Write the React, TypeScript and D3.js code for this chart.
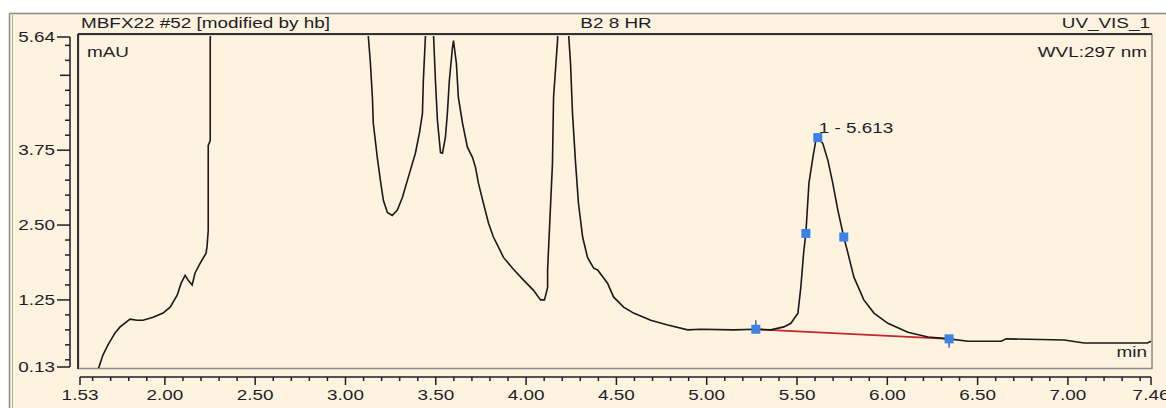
import React from "react";
import * as d3 from "d3";

// Chromatogram trace (retention time in min, signal in mAU)
const retentionTime = [
  1.628, 1.635, 1.657, 1.685, 1.724, 1.752, 1.807, 1.846, 1.879, 1.935, 1.99, 2.029, 2.068, 2.09,
  2.112, 2.129, 2.151, 2.167, 2.195, 2.228, 2.234, 2.24, 2.24, 2.251, 2.251, 2.256, 2.3, 3.05, 3.12,
  3.138, 3.149, 3.154, 3.176, 3.193, 3.21, 3.232, 3.259, 3.287, 3.315, 3.348, 3.387, 3.409, 3.426,
  3.431, 3.442, 3.465, 3.487, 3.498, 3.509, 3.526, 3.537, 3.553, 3.564, 3.575, 3.592, 3.598, 3.614,
  3.625, 3.648, 3.675, 3.703, 3.72, 3.736, 3.764, 3.792, 3.819, 3.847, 3.875, 3.925, 3.986, 4.041,
  4.08, 4.102, 4.119, 4.119, 4.146, 4.152, 4.174, 4.2, 4.235, 4.246, 4.257, 4.274, 4.29, 4.313,
  4.34, 4.374, 4.396, 4.451, 4.484, 4.54, 4.595, 4.69, 4.784, 4.895, 4.967, 5.15, 5.272, 5.355,
  5.427, 5.466, 5.505, 5.521, 5.538, 5.549, 5.566, 5.588, 5.604, 5.615, 5.643, 5.671, 5.698, 5.726,
  5.759, 5.782, 5.815, 5.87, 5.926, 6.003, 6.114, 6.225, 6.342, 6.447, 6.63, 6.658, 6.979, 7.09,
  7.44, 7.46,
];
const signal = [
  0.05, 0.13, 0.33, 0.5, 0.7, 0.8, 0.93, 0.91, 0.91, 0.96, 1.03, 1.13, 1.33, 1.53,
  1.66, 1.58, 1.5, 1.7, 1.86, 2.03, 2.16, 2.41, 3.83, 3.91, 5.58, 6.0, 40, 20, 5.9,
  5.2, 4.63, 4.2, 3.63, 3.25, 2.91, 2.71, 2.66, 2.75, 2.96, 3.3, 3.7, 4.03, 4.36,
  4.91, 5.61, 6.8, 5.7, 4.91, 4.25, 3.71, 3.7, 3.96, 4.36, 4.91, 5.46, 5.58, 5.2,
  4.63, 4.2, 3.8, 3.63, 3.46, 3.2, 2.86, 2.53, 2.3, 2.13, 1.96, 1.78, 1.58, 1.41,
  1.25, 1.25, 1.46, 1.75, 3.53, 4.63, 5.58, 9.0, 5.7, 5.2, 4.36, 3.53, 2.86, 2.3,
  1.96, 1.78, 1.75, 1.53, 1.3, 1.13, 1.03, 0.91, 0.83, 0.75, 0.76, 0.75, 0.76, 0.75,
  0.8, 0.86, 1.03, 1.46, 2.08, 2.36, 3.2, 3.63, 3.91, 3.96, 3.86, 3.58, 3.2, 2.75,
  2.3, 2.03, 1.63, 1.25, 1.03, 0.86, 0.71, 0.63, 0.6, 0.56, 0.56, 0.6, 0.58, 0.53,
  0.53, 0.56,
];

// Peak 1 markers: start, left inflection, apex, right inflection, end
const markerTime = [5.272, 5.549, 5.615, 5.759, 6.342];
const markerSignal = [0.76, 2.36, 3.96, 2.3, 0.6];
const peakLabel = "1 - 5.613";

const yLabelTicks = [0.13, 1.25, 2.5, 3.75, 5.64];
const yLabels = ["0.13", "1.25", "2.50", "3.75", "5.64"];
const xLabelTicks = [1.53, 2.0, 2.5, 3.0, 3.5, 4.0, 4.5, 5.0, 5.5, 6.0, 6.5, 7.0, 7.46];
const xLabels = ["1.53", "2.00", "2.50", "3.00", "3.50", "4.00", "4.50", "5.00", "5.50", "6.00", "6.50", "7.00", "7.46"];

const W = 1166;
const H = 408;
const BG = "#fdf3df";
const INK = "#1e1e2a";
const SX = 1.35; // the picture is stretched sideways
const FONT = "'Liberation Sans', Arial, sans-serif";

const Label = ({ x, y, anchor = "start", children }: any) => (
  <g transform={`translate(${x},${y}) scale(${SX},1)`}>
    <text textAnchor={anchor} fontSize={14} fontFamily={FONT} fill={INK}>
      {children}
    </text>
  </g>
);

export default function App() {
  const x = d3.scaleLinear().domain([1.53, 7.46]).range([80, 1151]);
  const y = d3.scaleLinear().domain([0.13, 5.64]).range([367, 37]);

  const points = retentionTime.map((t, i) => [t, signal[i]] as [number, number]);
  const line = d3
    .line<[number, number]>()
    .x((d) => x(d[0]))
    .y((d) => y(d[1]));

  // minor ticks every 0.25 mAU, unlabelled major at 5.00
  const yMinor = d3.range(1, 23).map((k) => k * 0.25).filter((v) => Math.abs(v / 1.25 - Math.round(v / 1.25)) > 1e-6);
  const yMajorExtra = [5.0];
  const xMinor = d3.range(16, 75).map((k) => k / 10).filter((v) => Math.abs(v * 2 - Math.round(v * 2)) > 1e-6);

  const axisY = 377;

  return (
    <svg width={W} height={H} style={{ position: "absolute", left: 0, top: 0, display: "block" }}>
      <defs>
        <clipPath id="plotClip">
          <rect x={79} y={36} width={1073} height={332} />
        </clipPath>
      </defs>
      <rect x={0} y={0} width={W} height={H} fill="#fff" />
      <rect x={9} y={13} width={W} height={H} fill={BG} />
      {/* outer frame */}
      <line x1={9.5} y1={13.5} x2={W} y2={13.5} stroke="#8a8a8a" strokeWidth={1.5} />
      <line x1={9.5} y1={13.5} x2={9.5} y2={H} stroke="#8a8a8a" strokeWidth={1.5} />
      <line x1={12.5} y1={15} x2={12.5} y2={H} stroke="#b5b0a5" strokeWidth={1} />

      {/* header */}
      <Label x={81} y={28}>MBFX22 #52 [modified by hb]</Label>
      <Label x={616} y={28} anchor="middle">B2 8 HR</Label>
      <Label x={1150} y={28} anchor="end">UV_VIS_1</Label>

      {/* plot frame */}
      <rect x={78.5} y={34.5} width={1073.5} height={334} fill={BG} stroke="#8c8c8c" strokeWidth={1.5} />
      <line x1={78} y1={34} x2={78} y2={369} stroke="#333" strokeWidth={2} />
      <line x1={78} y1={34} x2={1152} y2={34} stroke="#333" strokeWidth={2} />

      <Label x={87} y={57}>mAU</Label>
      <Label x={1147} y={57} anchor="end">WVL:297 nm</Label>
      <Label x={1147} y={357} anchor="end">min</Label>

      {/* y axis */}
      <g stroke={INK} strokeWidth={1.5}>
        <line x1={70} y1={y(5.64)} x2={70} y2={y(0.13)} />
        {yLabelTicks.map((v) => (
          <line key={"yl" + v} x1={57} x2={70} y1={y(v)} y2={y(v)} />
        ))}
        {yMajorExtra.map((v) => (
          <line key={"ym" + v} x1={60} x2={70} y1={y(v)} y2={y(v)} />
        ))}
        {yMinor.map((v) => (
          <line key={"yn" + v} x1={65} x2={70} y1={y(v)} y2={y(v)} />
        ))}
      </g>
      {yLabelTicks.map((v, i) => (
        <Label key={"ylt" + v} x={55} y={y(v) + 5} anchor="end">
          {yLabels[i]}
        </Label>
      ))}

      {/* x axis */}
      <g stroke={INK} strokeWidth={1.5}>
        <line x1={x(1.53)} x2={x(7.46)} y1={axisY} y2={axisY} />
        {xLabelTicks.map((v) => (
          <line key={"xl" + v} x1={x(v)} x2={x(v)} y1={axisY} y2={axisY + 8} />
        ))}
        {xMinor.map((v) => (
          <line key={"xn" + v} x1={x(v)} x2={x(v)} y1={axisY} y2={axisY + 4} />
        ))}
      </g>
      {xLabelTicks.map((v, i) => (
        <Label key={"xlt" + v} x={x(v)} y={400} anchor="middle">
          {xLabels[i]}
        </Label>
      ))}

      {/* trace */}
      <g clipPath="url(#plotClip)">
        <line
          x1={x(markerTime[0])}
          y1={y(markerSignal[0])}
          x2={x(markerTime[4])}
          y2={y(markerSignal[4])}
          stroke="#c0282a"
          strokeWidth={1.6}
        />
        <path d={line(points) || ""} fill="none" stroke="#1a1a1a" strokeWidth={1.6} />
        <line x1={x(markerTime[0])} x2={x(markerTime[0])} y1={y(markerSignal[0]) - 9} y2={y(markerSignal[0])} stroke="#1f3fa0" strokeWidth={1.2} />
        <line x1={x(markerTime[4])} x2={x(markerTime[4])} y1={y(markerSignal[4])} y2={y(markerSignal[4]) + 9} stroke="#1f3fa0" strokeWidth={1.2} />
        {markerTime.map((t, i) => (
          <rect key={"mk" + i} x={x(t) - 4.5} y={y(markerSignal[i]) - 4.5} width={9} height={9} fill="#3b82e8" />
        ))}
      </g>
      <Label x={x(markerTime[2]) + 1} y={y(markerSignal[2]) - 5}>
        {peakLabel}
      </Label>
    </svg>
  );
}
